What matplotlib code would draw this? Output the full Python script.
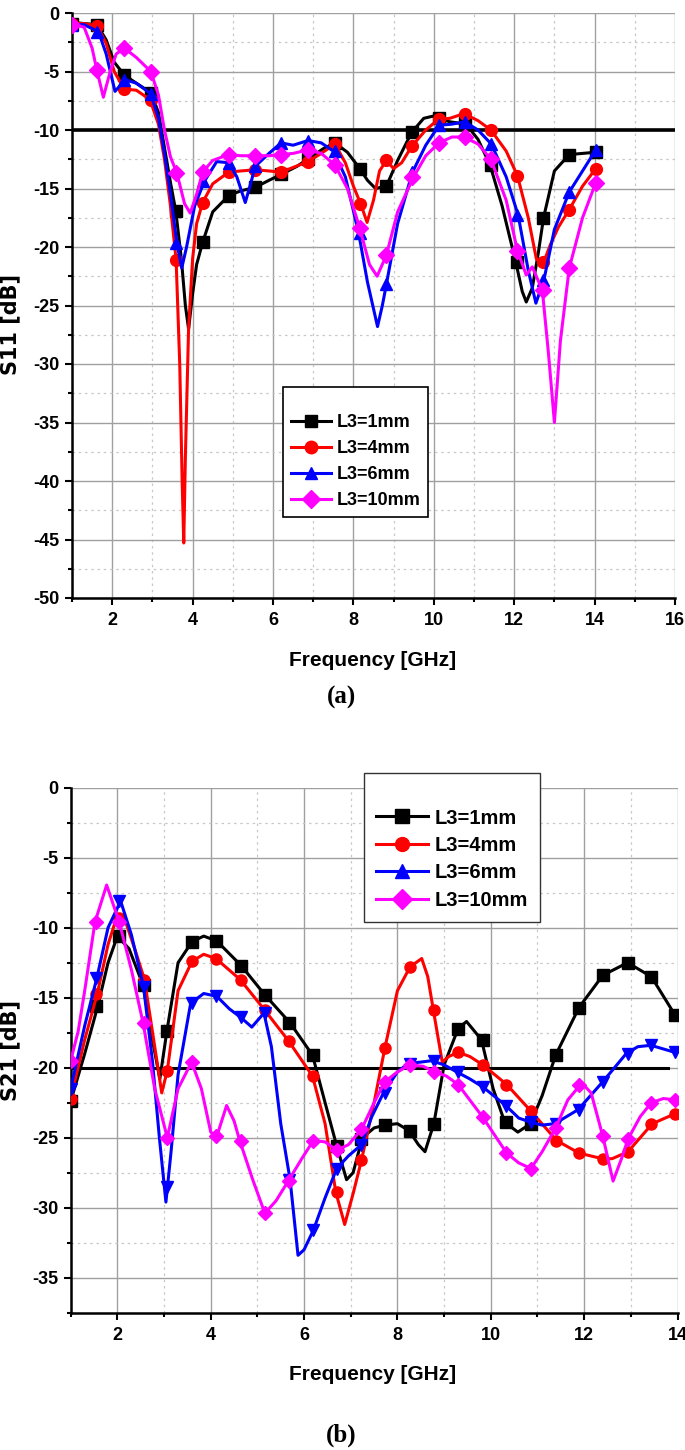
import matplotlib
matplotlib.use('Agg')
import matplotlib.pyplot as plt
from matplotlib.lines import Line2D
from matplotlib.ticker import MultipleLocator

plt.rcParams['axes.unicode_minus'] = False

# ---------------- data: (a) S11 ----------------
series_names = ['L3=1mm', 'L3=4mm', 'L3=6mm', 'L3=10mm']

# curves (frequency GHz, dB)
s11_1mm_f = [1.0, 1.3, 1.62, 1.85, 2.05, 2.3, 2.6, 2.96, 3.15, 3.3, 3.45, 3.58, 3.72, 3.82, 3.9, 4.0, 4.1, 4.25,
             4.5, 4.9, 5.2, 5.56, 5.9, 6.2, 6.6, 6.9, 7.25, 7.54, 7.85, 8.16, 8.35, 8.55, 8.82, 9.1, 9.45, 9.75,
             10.0, 10.11, 10.4, 10.8, 11.1, 11.4, 11.7, 12.04, 12.2, 12.3, 12.45, 12.6, 12.73, 13.0, 13.37, 13.7, 14.03]
s11_1mm_db = [-0.8, -0.9, -1.0, -2.3, -4.2, -5.3, -6.0, -6.8, -8.5, -11.5, -14.5, -16.9, -21.0, -25.0, -27.0, -24.0,
              -21.5, -19.6, -17.0, -15.6, -15.2, -14.9, -14.3, -13.8, -13.1, -12.4, -11.6, -11.1, -11.9, -13.3, -14.3,
              -15.0, -14.8, -12.6, -10.2, -9.0, -8.8, -9.0, -9.3, -9.5, -10.8, -13.0, -16.5, -21.3, -23.8, -24.7,
              -23.5, -20.5, -17.5, -13.5, -12.1, -12.0, -11.9]

s11_4mm_f = [1.0, 1.3, 1.62, 1.85, 2.05, 2.3, 2.6, 2.94, 3.15, 3.3, 3.45, 3.59, 3.68, 3.74, 3.78, 3.82, 3.9, 4.0,
             4.1, 4.25, 4.5, 4.9, 5.2, 5.56, 5.9, 6.2, 6.5, 6.87, 7.2, 7.54, 7.8, 8.0, 8.18, 8.34, 8.5, 8.65, 8.82,
             9.0, 9.2, 9.45, 9.8, 10.11, 10.4, 10.75, 11.1, 11.42, 11.8, 12.08, 12.35, 12.55, 12.7, 12.9, 13.1,
             13.37, 13.7, 14.03]
s11_4mm_db = [-0.9, -0.9, -1.1, -2.6, -5.0, -6.5, -6.6, -7.4, -9.5, -12.5, -16.5, -21.1, -30.0, -40.0, -45.3, -38.0,
              -27.0, -21.0, -18.0, -16.2, -14.6, -13.6, -13.5, -13.4, -13.5, -13.6, -13.2, -12.7, -12.0, -11.2, -12.8,
              -14.8, -16.3, -17.9, -16.0, -13.5, -12.6, -13.3, -12.8, -11.4, -10.0, -9.1, -9.0, -8.6, -9.2, -10.0,
              -11.8, -13.9, -17.5, -21.0, -21.6, -19.8, -18.3, -16.8, -14.8, -13.3]

s11_6mm_f = [1.0, 1.3, 1.66, 1.85, 2.07, 2.32, 2.6, 2.96, 3.15, 3.3, 3.45, 3.61, 3.73, 3.85, 4.05, 4.29, 4.6, 4.9,
             5.1, 5.31, 5.45, 5.56, 5.9, 6.2, 6.5, 6.87, 7.2, 7.5, 7.8, 8.13, 8.35, 8.6, 8.72, 8.82, 9.1, 9.47, 9.8,
             10.13, 10.45, 10.77, 11.1, 11.43, 11.8, 12.1, 12.35, 12.54, 12.74, 13.0, 13.37, 13.7, 14.03]
s11_6mm_db = [-1.0, -1.0, -1.6, -3.5, -6.7, -5.7, -6.0, -6.9, -9.0, -12.0, -15.5, -19.7, -21.8, -20.0, -16.5, -14.4,
              -12.7, -12.8, -14.0, -16.2, -14.5, -13.1, -12.0, -11.1, -11.3, -10.9, -11.1, -11.8, -14.0, -18.8,
              -23.0, -26.8, -25.0, -23.2, -18.0, -13.6, -11.3, -9.6, -9.5, -9.3, -10.0, -11.2, -14.0, -17.3, -22.0,
              -24.8, -22.8, -18.5, -15.3, -13.5, -11.7]

s11_10mm_f = [1.0, 1.3, 1.5, 1.62, 1.78, 1.95, 2.1, 2.3, 2.6, 2.96, 3.15, 3.3, 3.45, 3.61, 3.8, 3.94, 4.1, 4.25,
              4.5, 4.9, 5.2, 5.56, 5.9, 6.2, 6.5, 6.87, 7.2, 7.54, 7.85, 8.16, 8.4, 8.59, 8.82, 9.1, 9.5, 9.8, 10.13,
              10.45, 10.75, 11.1, 11.42, 11.8, 12.08, 12.3, 12.45, 12.7, 12.85, 13.0, 13.15, 13.37, 13.7, 14.03]
s11_10mm_db = [-1.0, -1.2, -3.0, -4.9, -7.2, -5.0, -3.5, -3.0, -3.8, -5.0, -7.0, -10.0, -12.3, -13.7, -16.3, -17.1,
               -15.5, -13.6, -12.6, -12.1, -12.2, -12.2, -12.2, -12.1, -12.0, -11.7, -12.0, -13.0, -15.0, -18.4,
               -21.5, -22.5, -20.7, -17.0, -14.0, -12.2, -11.1, -10.6, -10.6, -11.2, -12.5, -16.0, -20.3, -22.4,
               -21.7, -23.7, -29.0, -35.0, -28.0, -21.8, -17.5, -14.5]

# marker points
s11_mk_f = [1.0, 1.62, 2.3, 2.96, 3.59, 4.25, 4.9, 5.56, 6.2, 6.87, 7.54, 8.16, 8.82, 9.46, 10.12, 10.77, 11.42,
            12.08, 12.72, 13.37, 14.03]
s11_1mm_mk = [-0.9, -1.0, -5.3, -6.8, -16.9, -19.6, -15.6, -14.9, -13.8, -12.5, -11.1, -13.3, -14.8, -10.2, -9.0,
              -9.4, -13.0, -21.3, -17.5, -12.1, -11.9]
s11_4mm_mk = [-0.9, -1.1, -6.5, -7.4, -21.1, -16.2, -13.6, -13.4, -13.6, -12.7, -11.2, -16.3, -12.6, -11.4, -9.1,
              -8.6, -10.0, -13.9, -21.3, -16.8, -13.3]
s11_6mm_mk = [-1.0, -1.6, -5.7, -6.9, -19.7, -14.4, -12.8, -13.1, -11.1, -10.9, -11.8, -18.8, -23.2, -13.6, -9.6,
              -9.3, -11.2, -17.3, -22.8, -15.3, -11.7]
s11_10mm_mk = [-1.0, -4.9, -3.0, -5.0, -13.7, -13.6, -12.1, -12.2, -12.1, -11.7, -13.0, -18.4, -20.7, -14.0, -11.1,
               -10.6, -12.5, -20.3, -23.7, -21.8, -14.5]
s11_limit = -10

# ---------------- data: (b) S21 ----------------
s21_1mm_f = [1.0, 1.3, 1.58, 1.8, 2.0, 2.25, 2.55, 2.75, 2.91, 3.06, 3.3, 3.6, 3.85, 4.13, 4.65, 5.16, 5.7, 6.18,
             6.45, 6.7, 6.91, 7.05, 7.25, 7.5, 7.73, 8.0, 8.25, 8.45, 8.59, 8.78, 9.0, 9.3, 9.48, 9.8, 10.05, 10.3,
             10.58, 10.85, 11.1, 11.39, 11.89, 12.4, 12.93, 13.44, 13.94]
s21_1mm_db = [-22.4, -19.0, -15.6, -12.5, -10.6, -11.5, -14.1, -18.0, -20.8, -17.4, -12.5, -11.0, -10.6, -10.95,
              -12.7, -14.8, -16.8, -19.1, -22.5, -25.6, -28.0, -27.5, -25.0, -24.3, -24.1, -24.0, -24.5, -25.5,
              -26.0, -24.0, -19.8, -17.2, -16.7, -18.0, -21.5, -23.9, -24.6, -24.0, -22.0, -19.1, -15.7, -13.4,
              -12.5, -13.5, -16.2]

s21_4mm_f = [1.0, 1.3, 1.57, 1.8, 2.0, 2.2, 2.4, 2.58, 2.8, 2.95, 3.07, 3.3, 3.6, 3.85, 4.11, 4.63, 5.16, 5.67,
             6.18, 6.45, 6.68, 6.87, 7.05, 7.23, 7.5, 7.73, 8.0, 8.27, 8.52, 8.65, 8.77, 8.96, 9.1, 9.3, 9.55, 9.83,
             10.34, 10.86, 11.41, 11.89, 12.39, 12.6, 12.94, 13.2, 13.46, 13.94]
s21_4mm_db = [-22.2, -18.0, -14.7, -11.2, -9.1, -9.8, -11.8, -13.7, -18.5, -21.8, -20.2, -14.5, -12.4, -11.9,
              -12.2, -13.7, -15.9, -18.1, -20.6, -24.0, -28.9, -31.2, -29.0, -26.6, -22.5, -18.6, -14.5, -12.8,
              -12.2, -13.5, -15.9, -19.6, -19.2, -18.9, -19.2, -19.8, -21.2, -23.1, -25.2, -26.1, -26.5, -26.5,
              -26.0, -25.0, -24.0, -23.3]

s21_6mm_f = [1.0, 1.3, 1.56, 1.8, 2.07, 2.3, 2.56, 2.75, 2.9, 3.04, 3.15, 3.3, 3.57, 3.85, 4.13, 4.4, 4.64, 4.88,
             5.14, 5.3, 5.5, 5.7, 5.87, 6.0, 6.2, 6.45, 6.7, 6.95, 7.23, 7.45, 7.7, 8.0, 8.23, 8.5, 8.73, 9.0, 9.27,
             9.55, 9.84, 10.32, 10.6, 10.86, 11.1, 11.37, 11.87, 12.4, 12.9, 13.15, 13.43, 13.94]
s21_6mm_db = [-21.5, -17.0, -13.6, -10.0, -8.1, -10.5, -14.2, -19.5, -25.0, -29.6, -26.0, -20.5, -15.4, -14.7,
              -14.9, -15.8, -16.4, -17.1, -16.1, -18.5, -24.0, -28.0, -33.4, -33.0, -31.6, -29.3, -27.2, -26.3,
              -25.5, -23.5, -21.8, -20.3, -19.7, -19.6, -19.5, -19.8, -20.3, -20.8, -21.4, -22.7, -23.6, -23.9,
              -24.1, -24.0, -23.0, -21.0, -19.0, -18.5, -18.4, -18.9]

s21_10mm_f = [1.0, 1.16, 1.3, 1.52, 1.77, 2.04, 2.3, 2.55, 2.8, 3.07, 3.3, 3.59, 3.8, 4.0, 4.13, 4.34, 4.5, 4.62,
              4.9, 5.16, 5.4, 5.66, 5.95, 6.2, 6.45, 6.7, 6.95, 7.23, 7.5, 7.73, 8.0, 8.27, 8.55, 8.8, 9.05, 9.3,
              9.82, 10.34, 10.6, 10.86, 11.1, 11.39, 11.65, 11.95, 12.15, 12.4, 12.62, 12.8, 12.94, 13.2, 13.44,
              13.7, 13.94]
s21_10mm_db = [-19.5, -17.4, -14.5, -9.6, -6.95, -9.6, -13.0, -16.8, -21.5, -25.0, -21.5, -19.6, -21.5, -24.6,
               -24.9, -22.7, -23.8, -25.2, -28.0, -30.4, -29.5, -28.1, -26.5, -25.2, -25.3, -25.9, -25.5, -24.4,
               -22.5, -21.0, -20.3, -19.8, -19.9, -20.3, -20.6, -21.2, -23.5, -26.1, -26.8, -27.2, -26.0, -24.3,
               -22.3, -21.1, -21.8, -24.9, -28.1, -26.5, -25.1, -23.5, -22.5, -22.2, -22.3]

s21_mk_f = [1.0, 1.55, 2.04, 2.56, 3.06, 3.59, 4.12, 4.64, 5.16, 5.68, 6.19, 6.7, 7.23, 7.73, 8.26, 8.78, 9.3,
            9.83, 10.33, 10.86, 11.39, 11.89, 12.4, 12.93, 13.44, 13.94]
s21_1mm_mk = [-22.4, -15.6, -10.6, -14.1, -17.4, -11.0, -10.95, -12.7, -14.8, -16.8, -19.1, -25.6, -25.1, -24.1,
              -24.5, -24.0, -17.2, -18.0, -23.9, -24.0, -19.1, -15.7, -13.4, -12.5, -13.5, -16.2]
s21_4mm_mk = [-22.2, -14.7, -9.3, -13.7, -20.2, -12.4, -12.2, -13.7, -15.9, -18.1, -20.6, -28.9, -26.6, -18.6,
              -12.8, -15.9, -18.9, -19.8, -21.2, -23.1, -25.2, -26.1, -26.5, -26.0, -24.0, -23.3]
s21_6mm_mk = [-21.5, -13.6, -8.1, -14.2, -28.5, -15.4, -14.9, -16.4, -16.1, -28.0, -31.6, -27.2, -25.5, -21.8,
              -19.7, -19.5, -20.3, -21.4, -22.7, -23.9, -24.0, -23.0, -21.0, -19.0, -18.4, -18.9]
s21_10mm_mk = [-19.5, -9.6, -9.6, -16.8, -25.0, -19.6, -24.9, -25.2, -30.4, -28.1, -25.2, -25.9, -24.4, -21.0,
               -19.8, -20.3, -21.2, -23.5, -26.1, -27.2, -24.3, -21.2, -24.9, -25.1, -22.5, -22.3]
s21_limit = -20
s21_limit_end = 13.8

colors = ['black', '#ff0000', '#0000ff', '#ff00ff']
narrow = ['Liberation Sans Narrow', 'Liberation Sans', 'DejaVu Sans']


def style_axes(ax, xmax, ymin):
    ax.set_xlim(1, xmax)
    ax.set_ylim(ymin, 0)
    ax.xaxis.set_major_locator(MultipleLocator(2))
    ax.xaxis.set_minor_locator(MultipleLocator(1))
    ax.yaxis.set_major_locator(MultipleLocator(5))
    ax.yaxis.set_minor_locator(MultipleLocator(2.5))
    ax.grid(which='major', color='#a0a0a0', linewidth=1.0, linestyle='-')
    ax.grid(which='minor', color='#c8c8c8', linewidth=0.9, linestyle=(0, (2, 3)))
    ax.set_axisbelow(True)
    for side in ['top', 'right']:
        ax.spines[side].set_visible(False)
    for side in ['left', 'bottom']:
        ax.spines[side].set_linewidth(1.8)
    ax.tick_params(which='major', direction='out', length=5, width=1.5, labelsize=13)
    ax.tick_params(which='minor', direction='out', length=3, width=1.5)
    ax.tick_params(axis='x', which='major', pad=5)
    ax.tick_params(axis='y', which='major', pad=4)


def bold_ticks(ax):
    for lab in ax.get_xticklabels() + ax.get_yticklabels():
        lab.set_family(narrow)
        lab.set_fontweight('bold')


fig = plt.figure(figsize=(6.85, 14.5), dpi=100)

# ---------------- (a) ----------------
ax1 = fig.add_axes([72 / 685, 1 - 598 / 1450, 603 / 685, 585 / 1450])
style_axes(ax1, 16, -50)
ax1.set_xticks([2, 4, 6, 8, 10, 12, 14, 16])
bold_ticks(ax1)
ax1.axhline(s11_limit, color='black', linewidth=2.6, zorder=5)

s11_curves = [(s11_1mm_f, s11_1mm_db, s11_1mm_mk), (s11_4mm_f, s11_4mm_db, s11_4mm_mk),
              (s11_6mm_f, s11_6mm_db, s11_6mm_mk), (s11_10mm_f, s11_10mm_db, s11_10mm_mk)]
markers_a = ['s', 'o', '^', 'D']
for (f, db, mk), c, m in zip(s11_curves, colors, markers_a):
    ax1.plot(f, db, color=c, linewidth=2.2, zorder=6)
    ax1.plot(s11_mk_f, mk, linestyle='none', marker=m, color=c,
             markersize=8.5 if m != 'D' else 8, zorder=6)

ax1.set_xlabel('Frequency [GHz]', fontsize=15, fontweight='bold', family=narrow)
ax1.xaxis.set_label_coords(0.499, -0.09)
ax1.xaxis.label.set_va('top')
ax1.set_ylabel('S11 [dB]', fontsize=15, fontweight='bold', family='DejaVu Sans')
ax1.yaxis.set_label_coords(-0.086, 0.468)

handles_a = [Line2D([], [], color=c, marker=m, linewidth=2.2, markersize=9) for c, m in zip(colors, markers_a)]
leg1 = ax1.legend(handles_a, series_names, loc='upper left', bbox_to_anchor=(283 / 685, 1 - 387 / 1450),
                  bbox_transform=fig.transFigure, borderaxespad=0, fancybox=False, framealpha=1,
                  edgecolor='black', handlelength=2.2, handletextpad=0.3, labelspacing=0.5,
                  borderpad=0.45, title=' ', title_fontsize=8,
                  prop={'family': narrow, 'weight': 'bold', 'size': 13})
leg1.get_frame().set_linewidth(1.2)
leg1.set_zorder(10)

fig.text(342 / 685, 1 - 697 / 1450, '(a)', ha='center', va='center', fontsize=18,
         fontweight='bold', family='Liberation Serif')

# ---------------- (b) ----------------
ax2 = fig.add_axes([70.7 / 685, 1 - 1312.7 / 1450, 606.8 / 685, 525 / 1450])
style_axes(ax2, 14, -37.5)
ax2.set_yticks([0, -5, -10, -15, -20, -25, -30, -35])
bold_ticks(ax2)
ax2.plot([1, s21_limit_end], [s21_limit, s21_limit], color='black', linewidth=2.2, zorder=5)

s21_curves = [(s21_1mm_f, s21_1mm_db, s21_1mm_mk), (s21_4mm_f, s21_4mm_db, s21_4mm_mk),
              (s21_6mm_f, s21_6mm_db, s21_6mm_mk), (s21_10mm_f, s21_10mm_db, s21_10mm_mk)]
markers_b = ['s', 'o', 'v', 'D']
for (f, db, mk), c, m in zip(s21_curves, colors, markers_b):
    ax2.plot(f, db, color=c, linewidth=2.2, zorder=6)
    ax2.plot(s21_mk_f, mk, linestyle='none', marker=m, color=c,
             markersize=8 if m != 'D' else 7.5, zorder=6)

ax2.set_xlabel('Frequency [GHz]', fontsize=15, fontweight='bold', family=narrow)
ax2.xaxis.set_label_coords(0.498, -0.1)
ax2.xaxis.label.set_va('top')
ax2.set_ylabel('S21 [dB]', fontsize=15, fontweight='bold', family='DejaVu Sans')
ax2.yaxis.set_label_coords(-0.0836, 0.5)

handles_b = [Line2D([], [], color=c, marker=m, linewidth=2.2, markersize=10)
             for c, m in zip(colors, ['s', 'o', '^', 'D'])]
leg2 = ax2.legend(handles_b, series_names, loc='upper left', bbox_to_anchor=(364 / 685, 1 - 773 / 1450),
                  bbox_transform=fig.transFigure, borderaxespad=0, fancybox=False, framealpha=1,
                  edgecolor='#333333', handlelength=2.6, handletextpad=0.3, labelspacing=0.42,
                  borderpad=0.6, title=' ', title_fontsize=11,
                  prop={'family': 'Liberation Sans', 'weight': 'bold', 'size': 14.5})
leg2.get_frame().set_linewidth(1.0)
leg2.set_zorder(10)

fig.text(341 / 685, 1 - 1435 / 1450, '(b)', ha='center', va='center', fontsize=18,
         fontweight='bold', family='Liberation Serif')

fig.savefig('out.png', dpi=100)
